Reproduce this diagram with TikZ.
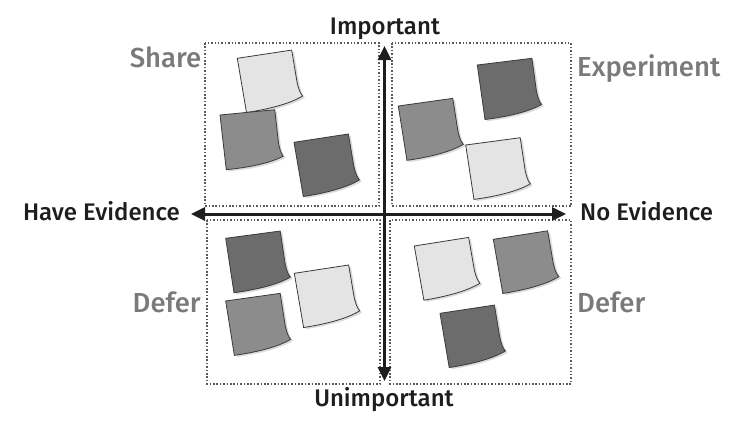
\documentclass[tikz,border=0pt]{standalone}
\usepackage{fontspec}
\setmainfont{Fira Sans}[BoldFont={Fira Sans Medium}]
\usetikzlibrary{arrows.meta}
\definecolor{NoteLight}{HTML}{E4E4E4}
\definecolor{NoteMid}{HTML}{8C8C8C}
\definecolor{NoteDark}{HTML}{6C6C6C}
\definecolor{NoteEdge}{HTML}{3A3A3A}
\definecolor{AxisInk}{HTML}{1E1E1E}
\definecolor{QuadInk}{HTML}{7A7A7A}

\begin{document}
\begin{tikzpicture}[x=1pt, y=-1pt,
        quad/.style={draw=black!65, line width=1.6pt, dash pattern=on 1.5pt off 1.9pt},
        axis/.style={draw=AxisInk, line width=3pt, {Triangle[length=14pt,width=13pt]}-{Triangle[length=14pt,width=13pt]}},
        axislabel/.style={font=\bfseries\fontsize{24}{28}\selectfont, text=AxisInk, inner sep=0pt},
        quadlabel/.style={font=\bfseries\fontsize{27.5}{32}\selectfont, text=QuadInk, inner sep=0pt},
        pics/note/.style={code={
            \fill[black!14] (2,2) -- (57,2) -- (57.5,34) .. controls (58,42) and (59,46) .. (61,49) .. controls (47,55) and (24,57) .. (3,57) -- cycle;
            \filldraw[fill=#1, draw=NoteEdge, line width=0.8pt] (0,0) -- (55,0) -- (55.5,32) .. controls (56,40) and (57,44) .. (59,47) .. controls (45,53) and (22,55) .. (1,55) -- cycle;
        }}
    ]
    \useasboundingbox (0,0) rectangle (750,424);
    % quadrants
    \draw[quad] (205,43) rectangle (379,206);
    \draw[quad] (392,43) rectangle (571,206);
    \draw[quad] (207,220) rectangle (380,384);
    \draw[quad] (390,220) rectangle (571,384);
    % sticky notes
    \pic[rotate=8.6] at (237.3,58.3) {note=NoteLight};
    \pic[rotate=5.5] at (220,115) {note=NoteMid};
    \pic[rotate=8.7] at (294,142.3) {note=NoteDark};
    \pic[rotate=7] at (477.3,65) {note=NoteDark};
    \pic[rotate=8] at (398.3,106) {note=NoteMid};
    \pic[rotate=7.6] at (465.7,145) {note=NoteLight};
    \pic[rotate=7.6] at (225.7,238.3) {note=NoteDark};
    \pic[rotate=8.7] at (294.3,273.3) {note=NoteLight};
    \pic[rotate=8] at (225.7,301) {note=NoteMid};
    \pic[rotate=9] at (414.3,246) {note=NoteLight};
    \pic[rotate=8.9] at (493.3,239.3) {note=NoteMid};
    \pic[rotate=8.6] at (440,313.3) {note=NoteDark};
    % axes
    \coordinate (top) at (384.5,46);
    \coordinate (bottom) at (384.5,381);
    \coordinate (left) at (191,214);
    \coordinate (right) at (566,214);
    \draw[axis] (left) -- (right);
    \draw[axis] (top) -- (bottom);
    \node[axislabel, anchor=base] (important) at (385,34) {Important};
    \node[axislabel, anchor=base] (unimportant) at (384,406) {Unimportant};
    \node[axislabel, anchor=base east] (haveev) at (180,220.5) {Have Evidence};
    \node[axislabel, anchor=base west] (noev) at (580,220) {No Evidence};
    % quadrant names
    \node[quadlabel, anchor=base east] (share) at (201.5,67) {Share};
    \node[quadlabel, anchor=base west] (experiment) at (577,76) {Experiment};
    \node[quadlabel, anchor=base east] (deferL) at (201,312) {Defer};
    \node[quadlabel, anchor=base west] (deferR) at (577,312) {Defer};
\end{tikzpicture}
\end{document}
